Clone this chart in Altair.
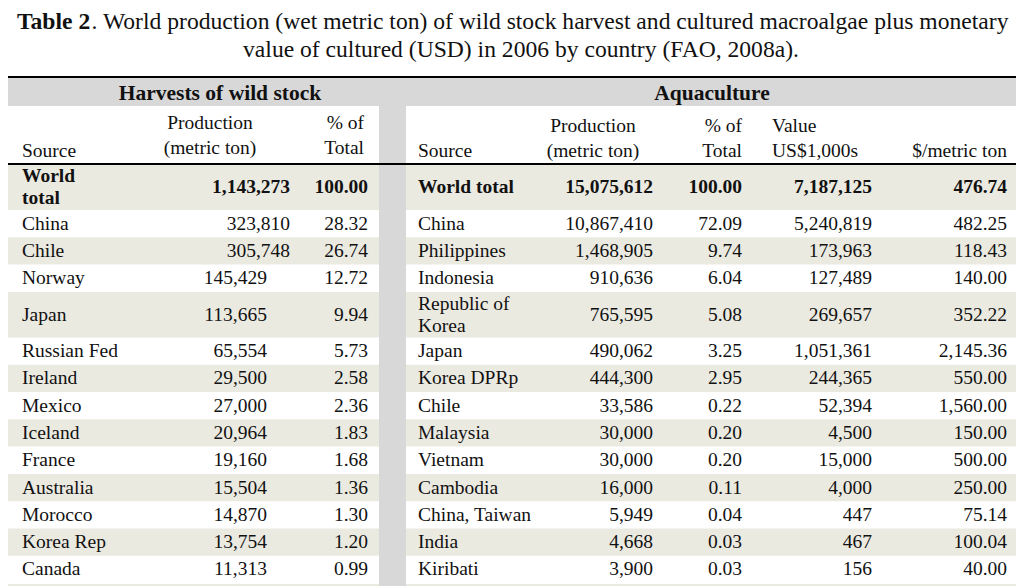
import altair as alt
import pandas as pd

# ---------------- data ----------------
title_bold = "Table 2"
title_rest = ". World production (wet metric ton) of wild stock harvest and cultured macroalgae plus monetary"
title_line2 = "value of cultured (USD) in 2006 by country (FAO, 2008a)."

wild_header = "Harvests of wild stock"
aqua_header = "Aquaculture"

wild_sources = ["China", "Chile", "Norway", "Japan", "Russian Fed", "Ireland", "Mexico",
                "Iceland", "France", "Australia", "Morocco", "Korea Rep", "Canada"]
wild_production = [323810, 305748, 145429, 113665, 65554, 29500, 27000,
                   20964, 19160, 15504, 14870, 13754, 11313]
wild_pct = [28.32, 26.74, 12.72, 9.94, 5.73, 2.58, 2.36, 1.83, 1.68, 1.36, 1.30, 1.20, 0.99]
wild_total = 1143273
wild_total_pct = 100.00

aqua_sources = ["China", "Philippines", "Indonesia", "Republic of Korea", "Japan", "Korea DPRp",
                "Chile", "Malaysia", "Vietnam", "Cambodia", "China, Taiwan", "India", "Kiribati"]
aqua_production = [10867410, 1468905, 910636, 765595, 490062, 444300, 33586,
                   30000, 30000, 16000, 5949, 4668, 3900]
aqua_pct = [72.09, 9.74, 6.04, 5.08, 3.25, 2.95, 0.22, 0.20, 0.20, 0.11, 0.04, 0.03, 0.03]
aqua_value = [5240819, 173963, 127489, 269657, 1051361, 244365, 52394,
              4500, 15000, 4000, 447, 467, 156]
aqua_per_ton = [482.25, 118.43, 140.00, 352.22, 2145.36, 550.00, 1560.00,
                150.00, 500.00, 250.00, 75.14, 100.04, 40.00]
aqua_total = 15075612
aqua_total_pct = 100.00
aqua_total_value = 7187125
aqua_total_per_ton = 476.74

# ---------------- layout ----------------
FONT = "Liberation Serif, Times New Roman, serif"
INK = "#111111"
BEIGE = "#ebeae1"
GRAY = "#d8d8d8"
BODY = 19.5
HEAD = 21.5
TITLE = 23.6

L0, L1 = 8, 379       # left table x-extent
R0, R1 = 406, 1017    # right table x-extent
ROW_H = 27.3
TALL_H = 45.5
TALL_ROWS = {3}                  # Japan / Republic of Korea row
WIDE_PROD_ROWS = {"China", "Chile"}  # left production column sits further right
WRAP = {"Republic of Korea": ["Republic of", "Korea"]}

texts = []   # dicts: x, y, text, align, bold, size


def T(x, y, s, align="left", bold=False, size=BODY):
    texts.append(dict(x=x, y=y, text=s, align=align, bold=bold, size=size))


# title
T(17, 22, title_bold, "left", True, TITLE)
T(17 + 3.16 * TITLE, 22, title_rest, "left", False, TITLE)
T(521, 50, title_line2, "center", False, TITLE)

# section headers
T(220, 94, wild_header, "center", True, HEAD)
T(712, 94, aqua_header, "center", True, HEAD)

# column headers left
T(22, 151, "Source")
T(210, 123, "Production", "center")
T(210, 148, "(metric ton)", "center")
T(364, 123, "% of", "right")
T(364, 148, "Total", "right")
# column headers right
T(418, 151, "Source")
T(593, 126, "Production", "center")
T(593, 151, "(metric ton)", "center")
T(742, 126, "% of", "right")
T(742, 151, "Total", "right")
T(772, 126, "Value")
T(772, 151, "US$1,000s")
T(1007, 151, "$/metric ton", "right")

# world total row
T(22, 176, "World", bold=True)
T(22, 198, "total", bold=True)
T(290, 187, f"{wild_total:,}", "right", True)
T(368, 187, f"{wild_total_pct:.2f}", "right", True)
T(418, 187, "World total", bold=True)
T(653, 187, f"{aqua_total:,}", "right", True)
T(742, 187, f"{aqua_total_pct:.2f}", "right", True)
T(872, 187, f"{aqua_total_value:,}", "right", True)
T(1007, 187, f"{aqua_total_per_ton:,.2f}", "right", True)

rects = []
rects.append(dict(x=L0, x2=R1, y=78, y2=106, fill=GRAY))      # header band
rects.append(dict(x=L1, x2=R0, y=106, y2=586, fill=GRAY))     # separator column
rects.append(dict(x=L0, x2=L1, y=165, y2=210, fill=BEIGE))    # world total
rects.append(dict(x=R0, x2=R1, y=165, y2=210, fill=BEIGE))

top = 210.0
for i in range(len(wild_sources)):
    h = TALL_H if i in TALL_ROWS else ROW_H
    cy = top + h / 2
    if i % 2 == 1:
        rects.append(dict(x=L0, x2=L1, y=top, y2=top + h, fill=BEIGE))
        rects.append(dict(x=R0, x2=R1, y=top, y2=top + h, fill=BEIGE))
    # left table
    T(22, cy, wild_sources[i])
    px = 290 if wild_sources[i] in WIDE_PROD_ROWS else 267
    T(px, cy, f"{wild_production[i]:,}", "right")
    T(368, cy, f"{wild_pct[i]:.2f}", "right")
    # right table
    name = aqua_sources[i]
    lines = WRAP.get(name, [name])
    for k, ln in enumerate(lines):
        T(418, cy + (k - (len(lines) - 1) / 2) * 22, ln)
    T(653, cy, f"{aqua_production[i]:,}", "right")
    T(742, cy, f"{aqua_pct[i]:.2f}", "right")
    T(872, cy, f"{aqua_value[i]:,}", "right")
    T(1007, cy, f"{aqua_per_ton[i]:,.2f}", "right")
    top += h
# start of the next (cut-off) shaded row
rects.append(dict(x=L0, x2=L1, y=top + 1, y2=586, fill=BEIGE))
rects.append(dict(x=R0, x2=R1, y=top + 1, y2=586, fill=BEIGE))

rules = [dict(x=L0, x2=R1, y=77), dict(x=L0, x2=R1, y=164)]

# ---------------- chart ----------------
X = lambda f: alt.X(f, scale=alt.Scale(domain=[8, 1016], nice=False, zero=False), axis=None)
Y = lambda f: alt.Y(f, scale=alt.Scale(domain=[586, 8], nice=False, zero=False), axis=None)

rect_layer = alt.Chart(pd.DataFrame(rects)).mark_rect().encode(
    x=X("x:Q"), x2="x2:Q", y=Y("y:Q"), y2="y2:Q",
    color=alt.Color("fill:N", scale=None),
)
rule_layer = alt.Chart(pd.DataFrame(rules)).mark_rule(color="black", strokeWidth=2.2).encode(
    x=X("x:Q"), x2="x2:Q", y=Y("y:Q"),
)

tdf = pd.DataFrame(texts)
layers = [rect_layer, rule_layer]
for (align, bold, size), g in tdf.groupby(["align", "bold", "size"]):
    layers.append(
        alt.Chart(g.reset_index(drop=True)).mark_text(
            align=align, baseline="middle", font=FONT, fontSize=float(size),
            fontWeight="bold" if bold else "normal", color=INK,
        ).encode(x=X("x:Q"), y=Y("y:Q"), text="text:N")
    )

chart = alt.layer(*layers).properties(
    width=1008, height=578, padding=0, autosize=alt.AutoSizeParams(type="none"),
).configure_view(stroke=None)

chart.save("out.html", embed_options={"renderer": "svg", "actions": False})
